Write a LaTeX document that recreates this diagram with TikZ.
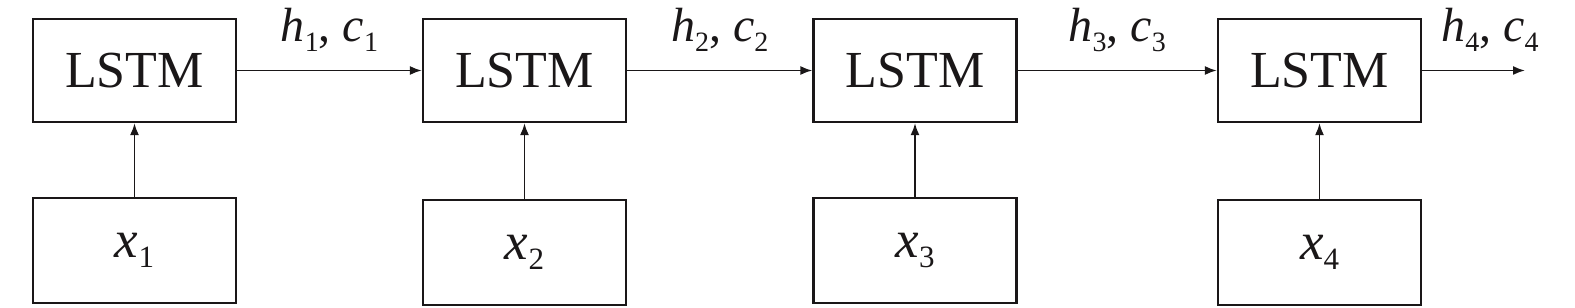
\documentclass[tikz,border=0pt]{standalone}
\usepackage{fontspec}
\setmainfont{Liberation Serif}
\usetikzlibrary{arrows.meta}
\definecolor{ink}{HTML}{1A1718}
\newcommand\hlab[2]{\fontsize{48}{50}\selectfont\textit{h}\raisebox{-0.21em}{\fontsize{28}{30}\selectfont #1}, \textit{c}\raisebox{-0.21em}{\fontsize{28}{30}\selectfont #2}}
\newcommand\xlab[1]{\fontsize{53}{56}\selectfont\textit{x}\raisebox{-0.2em}{\fontsize{31}{32}\selectfont #1}}
\tikzset{
  cell/.style={draw=ink, line width=2.3pt, minimum width=203pt, minimum height=103pt, inner sep=0pt, text=ink, font=\fontsize{52}{56}\selectfont},
  inbox/.style={draw=ink, line width=2.3pt, minimum width=203pt, minimum height=105pt, inner sep=0pt, text=ink},
  conn/.style={draw=ink, line width=1.7pt, -{Latex[length=12pt,width=9pt]}},
  lab/.style={anchor=base, inner sep=0pt, text=ink}
}
\begin{document}
\begin{tikzpicture}[x=1pt,y=1pt]
\useasboundingbox (0,0) rectangle (1575,308);
\node[cell] (l1) at (134.5,237.5) {LSTM};
\node[cell] (l2) at (524.5,237.5) {LSTM};
\node[cell] (l3) at (915,237.5) {LSTM};
\node[cell] (l4) at (1319.5,237.5) {LSTM};
\node[inbox] (x1) at (134.5,57.5) {\xlab{1}};
\node[inbox] (x2) at (524.5,55.5) {\xlab{2}};
\node[inbox] (x3) at (915,57.5) {\xlab{3}};
\node[inbox] (x4) at (1319.5,55.5) {\xlab{4}};
\coordinate (out) at (1525,237.5);
\draw[conn] (l1) -- (l2) node[lab, midway, yshift=29pt] (h1) {\hlab{1}{1}};
\draw[conn] (l2) -- (l3) node[lab, midway, yshift=29pt] (h2) {\hlab{2}{2}};
\draw[conn] (l3) -- (l4) node[lab, midway, yshift=29pt] (h3) {\hlab{3}{3}};
\draw[conn] (l4) -- (out) node[lab, pos=0.66, yshift=29pt] (h4) {\hlab{4}{4}};
\draw[conn] (x1) -- (l1);
\draw[conn] (x2) -- (l2);
\draw[conn] (x3) -- (l3);
\draw[conn] (x4) -- (l4);
\end{tikzpicture}
\end{document}
